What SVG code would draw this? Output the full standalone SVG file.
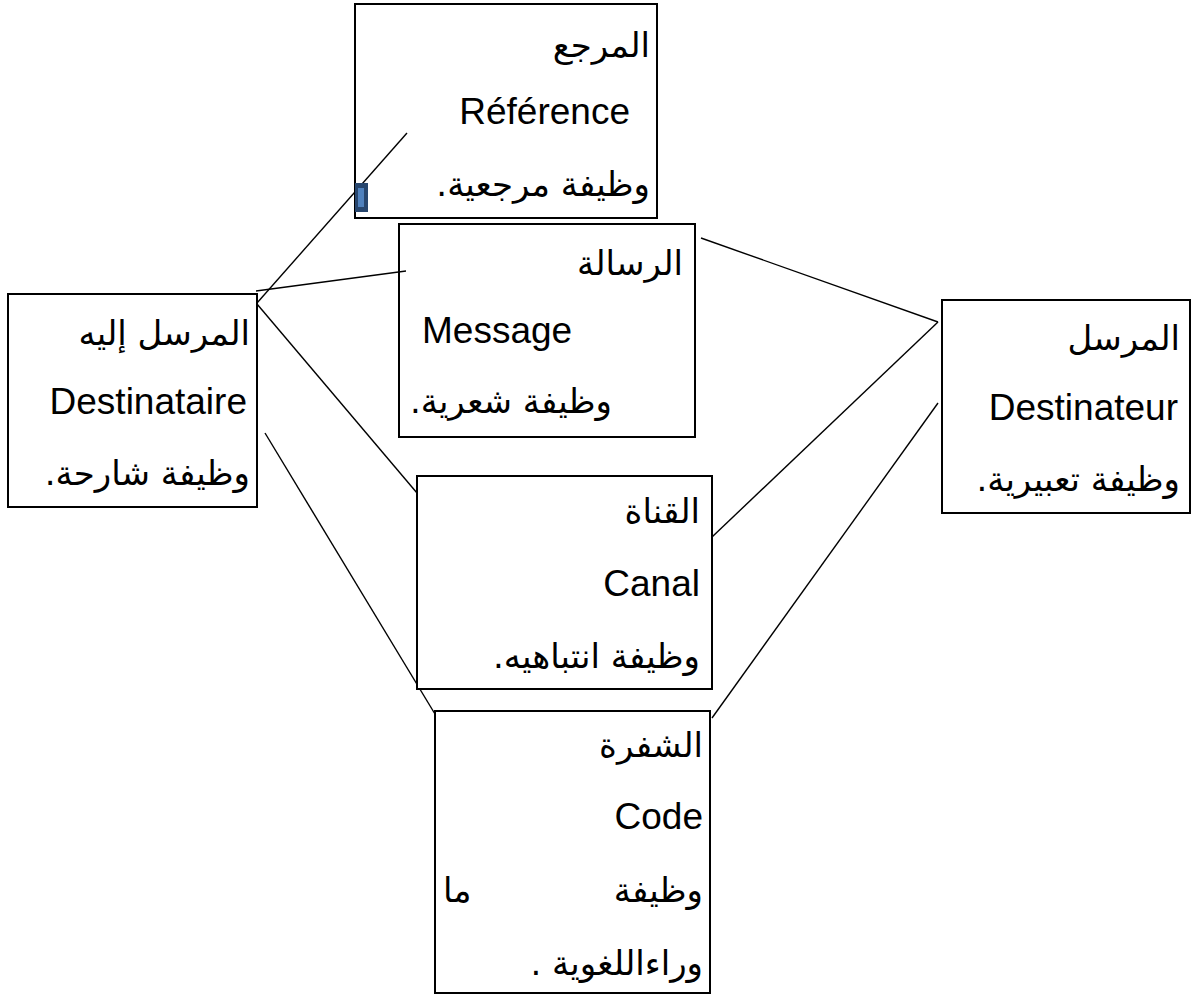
<svg xmlns="http://www.w3.org/2000/svg" width="1200" height="995" viewBox="0 0 1200 995">
<style>
.box{fill:#fff;stroke:#000;stroke-width:2}
.ln{stroke:#000;stroke-width:1.4;fill:none}
.lat{font-family:'Liberation Sans',Arial,sans-serif;font-size:37px;fill:#000}
.ar{font-family:'DejaVu Sans','Noto Sans',sans-serif;font-size:34px;fill:#000}
</style>
<rect width="1200" height="995" fill="#fff"/>
<g id="connectors">
<line class="ln" x1="407" y1="133" x2="257" y2="303"/>
<line class="ln" x1="256" y1="291" x2="406" y2="271"/>
<line class="ln" x1="257" y1="304" x2="417" y2="493"/>
<line class="ln" x1="265" y1="433" x2="438" y2="719"/>
<line class="ln" x1="701" y1="238" x2="938" y2="322"/>
<line class="ln" x1="938" y1="322" x2="712" y2="537"/>
<line class="ln" x1="938" y1="403" x2="712" y2="718"/>
</g>
<g id="node-reference">
<rect class="box" x="355" y="4" width="302" height="214" fill="none" style="fill:none"/>
<text class="ar" x="650" y="57" text-anchor="end">المرجع</text>
<text class="lat" x="630" y="124" text-anchor="end">Référence</text>
<text class="ar" x="650" y="196" text-anchor="end">&#x200F;وظيفة مرجعية.&#x200F;</text>
</g>
<g id="marker">
<rect x="355" y="183" width="13" height="29" fill="#27466e"/>
<rect x="358" y="188" width="6" height="19" fill="#4f81bd"/>
</g>
<g id="node-message">
<rect class="box" x="399" y="224" width="296" height="213" style="fill:none"/>
<text class="ar" x="683" y="275" text-anchor="end">الرسالة</text>
<text class="lat" x="422" y="343">Message</text>
<text class="ar" x="612" y="413" text-anchor="end">&#x200F;وظيفة شعرية.&#x200F;</text>
</g>
<g id="node-destinataire">
<rect class="box" x="8" y="294" width="249" height="213"/>
<text class="ar" x="250" y="345" text-anchor="end">المرسل إليه</text>
<text class="lat" x="247" y="414" text-anchor="end">Destinataire</text>
<text class="ar" x="250" y="485" text-anchor="end">&#x200F;وظيفة شارحة.&#x200F;</text>
</g>
<g id="node-destinateur">
<rect class="box" x="942" y="300" width="248" height="213"/>
<text class="ar" x="1180" y="350" text-anchor="end">المرسل</text>
<text class="lat" x="1178" y="420" text-anchor="end">Destinateur</text>
<text class="ar" x="1180" y="491" text-anchor="end">&#x200F;وظيفة تعبيرية.&#x200F;</text>
</g>
<g id="node-canal">
<rect class="box" x="417" y="476" width="295" height="213"/>
<text class="ar" x="700" y="523" text-anchor="end">القناة</text>
<text class="lat" x="700" y="596" text-anchor="end">Canal</text>
<text class="ar" x="700" y="668" text-anchor="end">&#x200F;وظيفة انتباهيه.&#x200F;</text>
</g>
<g id="node-code">
<rect class="box" x="435" y="711" width="275" height="282"/>
<text class="ar" x="703" y="757" text-anchor="end">الشفرة</text>
<text class="lat" x="703" y="829" text-anchor="end">Code</text>
<text class="ar" x="703" y="902" text-anchor="end">وظيفة</text>
<text class="ar" x="443" y="902">ما</text>
<text class="ar" x="703" y="975" text-anchor="end">&#x200F;وراءاللغوية .&#x200F;</text>
</g>
</svg>
